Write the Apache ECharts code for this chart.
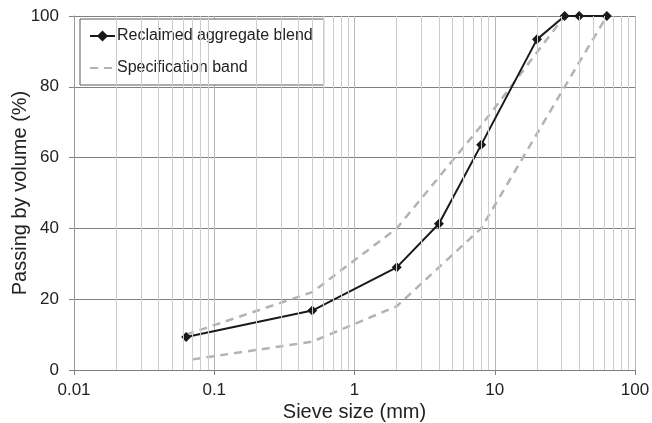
<!DOCTYPE html>
<html>
<head>
<meta charset="utf-8">
<script src="https://cdn.jsdelivr.net/npm/echarts@6/dist/echarts.min.js"></script>
<style>
    html, body { margin: 0; padding: 0; background: #fff; }
    #chart { width: 652px; height: 423px; }
</style>
</head>
<body>
<div id="chart"></div>
<script>
// sieve sizes (mm) and passing (%)
const blendSize = [0.063, 0.5, 2, 4, 8, 20, 31.5, 40, 63];
const blendPass = [9.3, 16.8, 29, 41.3, 63.6, 93.4, 100, 100, 100];

const upperSize = [0.063, 0.5, 2, 8, 31.5, 63];
const upperPass = [10, 22, 40, 69, 100, 100];

const lowerSize = [0.07, 0.5, 2, 8, 31.5, 63];
const lowerPass = [3, 8, 18, 40, 80, 100];

// minor log gridlines (2..9 in each decade)
const minorGrid = [];
[0.01, 0.1, 1, 10].forEach(d => {
    for (let k = 2; k <= 9; k++) minorGrid.push(+(d * k).toPrecision(3));
});

const pairs = (xs, ys) => xs.map((x, i) => [x, ys[i]]);

const font = 'Liberation Sans, Arial, sans-serif';
const textColor = '#222';
const bandStyle = { color: '#b3b3b3', width: 2.5, type: [8, 6] };

const chart = echarts.init(document.getElementById('chart'), null, { renderer: 'canvas' });

chart.setOption({
    animation: false,
    textStyle: { fontFamily: font },
    grid: { left: 74, right: 17, top: 16, bottom: 53, containLabel: false, outerBoundsMode: 'none' },
    legend: {
        data: [
            'Reclaimed aggregate blend',
            { name: 'Specification band', itemStyle: { opacity: 0 } }
        ],
        orient: 'vertical',
        left: 80,
        top: 19,
        padding: [9, 11, 9, 9],
        itemGap: 16,
        itemWidth: 25,
        itemHeight: 14,
        backgroundColor: '#fff',
        borderColor: '#5a5a5a',
        borderWidth: 1,
        textStyle: { fontFamily: font, fontSize: 16, color: textColor, padding: [0, 0, 0, -3] }
    },
    xAxis: {
        type: 'log',
        logBase: 10,
        min: 0.01,
        max: 100,
        name: 'Sieve size (mm)',
        nameLocation: 'middle',
        nameGap: 32,
        nameMoveOverlap: false,
        nameTextStyle: { fontFamily: font, fontSize: 20, color: textColor },
        axisLine: { show: true, onZero: false, lineStyle: { color: '#7f7f7f', width: 1 } },
        axisTick: { show: true, length: 5, lineStyle: { color: '#7f7f7f' } },
        axisLabel: { fontFamily: font, fontSize: 17, color: textColor, margin: 12,
            formatter: v => String(v) },
        splitLine: { show: true, lineStyle: { color: '#b8b8b8', width: 1 } }
    },
    yAxis: {
        type: 'value',
        min: 0,
        max: 100,
        interval: 20,
        name: 'Passing by volume (%)',
        nameLocation: 'middle',
        nameGap: 44,
        nameMoveOverlap: false,
        nameTextStyle: { fontFamily: font, fontSize: 20, color: textColor },
        axisLine: { show: true, lineStyle: { color: '#9a9a9a', width: 1 } },
        axisTick: { show: true, length: 5, lineStyle: { color: '#7f7f7f' } },
        axisLabel: { fontFamily: font, fontSize: 17, color: textColor, margin: 15 },
        splitLine: { show: true, lineStyle: { color: '#7f7f7f', width: 1 } }
    },
    series: [
        {
            name: 'minor',
            type: 'line',
            data: [],
            silent: true,
            z: 1,
            markLine: {
                silent: true,
                symbol: 'none',
                label: { show: false },
                lineStyle: { color: '#cdcdcd', width: 1, type: 'solid' },
                data: minorGrid.map(v => ({ xAxis: v }))
            }
        },
        {
            name: 'Specification band',
            type: 'line',
            data: pairs(upperSize, upperPass),
            symbol: 'none',
            lineStyle: bandStyle,
            itemStyle: { color: '#b3b3b3' },
            z: 2
        },
        {
            name: 'Specification band',
            type: 'line',
            data: pairs(lowerSize, lowerPass),
            symbol: 'none',
            lineStyle: bandStyle,
            itemStyle: { color: '#b3b3b3' },
            z: 2
        },
        {
            name: 'Reclaimed aggregate blend',
            type: 'line',
            data: pairs(blendSize, blendPass),
            symbol: 'diamond',
            symbolSize: 10,
            lineStyle: { color: '#1a1a1a', width: 2 },
            itemStyle: { color: '#1a1a1a' },
            z: 3
        }
    ]
});
</script>
</body>
</html>
